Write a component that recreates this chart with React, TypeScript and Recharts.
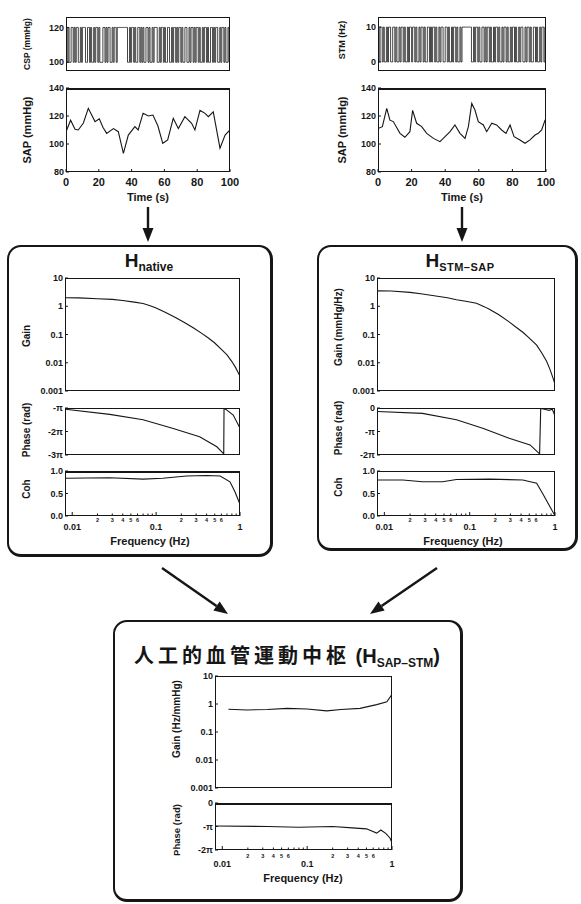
import React from 'react'
import { LineChart, Line, XAxis, YAxis } from 'recharts'

const FONT = '"Liberation Sans", Arial, Helvetica, sans-serif'
const CJK = '"Noto Sans CJK JP", "Noto Sans CJK SC", sans-serif'
const INK = '#161616'

// binary input sequences, one character per 0.625 s
const cspBits =
  '10100110101100101110011010010110100011010110010110' +
  '1111111111' +
  '0010110100110101001101001011100101101001100101101011010011001011010110100101101001101011001011010010'
const stmBits =
  '1011010010110011010010110100101101101001011010011010110100101100110100101101001011' +
  '1111111' +
  '00101101001101011010010110100101101001011010010110010110100110100101101'

const sapNative = [
  { t: 0, v: 108.8 }, { t: 2.8, v: 117 }, { t: 5.5, v: 110.5 }, { t: 7.5, v: 110 },
  { t: 10.6, v: 115 }, { t: 13.6, v: 125.5 }, { t: 17.7, v: 116 }, { t: 20.3, v: 118 },
  { t: 22.5, v: 112 }, { t: 24.8, v: 107.6 }, { t: 28.9, v: 111 }, { t: 31.9, v: 108.8 },
  { t: 35, v: 93.3 }, { t: 38, v: 106.4 }, { t: 42, v: 112.4 }, { t: 44, v: 110 },
  { t: 47, v: 122 }, { t: 50.2, v: 120 }, { t: 53, v: 120.7 }, { t: 56, v: 113 },
  { t: 59, v: 100.5 }, { t: 62, v: 102.9 }, { t: 65.4, v: 118.3 }, { t: 68.5, v: 111 },
  { t: 72.5, v: 119.5 }, { t: 76.6, v: 114.8 }, { t: 78.6, v: 110 }, { t: 81.7, v: 124 },
  { t: 84.8, v: 121.9 }, { t: 86.8, v: 119.5 }, { t: 89.8, v: 123 }, { t: 93.9, v: 97 },
  { t: 97, v: 106.4 }, { t: 100, v: 110 },
]

const sapStm = [
  { t: 0, v: 111 }, { t: 2.6, v: 112.4 }, { t: 5.2, v: 125.5 }, { t: 7.1, v: 117 },
  { t: 9.1, v: 116 }, { t: 13.1, v: 107.6 }, { t: 16, v: 104.8 }, { t: 19, v: 108.8 },
  { t: 20.6, v: 124 }, { t: 23, v: 114.8 }, { t: 26, v: 112.4 }, { t: 29, v: 107.6 },
  { t: 33, v: 104 }, { t: 36.9, v: 101.7 }, { t: 39.9, v: 105.2 }, { t: 42.9, v: 108.8 },
  { t: 45.8, v: 113.6 }, { t: 48.8, v: 107.6 }, { t: 51.8, v: 104 }, { t: 53.8, v: 112.4 },
  { t: 55.8, v: 129 }, { t: 57.7, v: 124.3 }, { t: 59.7, v: 116 }, { t: 62.7, v: 113.6 },
  { t: 64.7, v: 108.8 }, { t: 67.7, v: 114.8 }, { t: 70.6, v: 113.6 }, { t: 73.6, v: 110 },
  { t: 76.2, v: 107.6 }, { t: 78.6, v: 113.6 }, { t: 81, v: 105.2 }, { t: 84.5, v: 102.9 },
  { t: 87.5, v: 100.5 }, { t: 90.5, v: 102.9 }, { t: 93.5, v: 106.4 }, { t: 95.4, v: 107.6 },
  { t: 97.4, v: 110 }, { t: 99.4, v: 117 }, { t: 100, v: 117 },
]

// H native
const nativeGain = [
  { f: 0.0083, v: 2.0 }, { f: 0.012, v: 1.98 }, { f: 0.02, v: 1.85 }, { f: 0.03, v: 1.75 },
  { f: 0.04, v: 1.6 }, { f: 0.055, v: 1.4 }, { f: 0.07, v: 1.25 }, { f: 0.085, v: 1.05 },
  { f: 0.1, v: 0.87 }, { f: 0.13, v: 0.6 }, { f: 0.17, v: 0.4 }, { f: 0.22, v: 0.26 },
  { f: 0.28, v: 0.17 }, { f: 0.35, v: 0.11 }, { f: 0.42, v: 0.075 }, { f: 0.5, v: 0.05 },
  { f: 0.6, v: 0.03 }, { f: 0.7, v: 0.019 }, { f: 0.8, v: 0.011 }, { f: 0.88, v: 0.007 },
  { f: 0.95, v: 0.0045 }, { f: 0.99, v: 0.0035 },
]
const nativePhase = [
  { f: 0.0083, v: -1.05 }, { f: 0.028, v: -1.27 }, { f: 0.07, v: -1.5 }, { f: 0.16, v: -1.87 },
  { f: 0.33, v: -2.22 }, { f: 0.53, v: -2.65 }, { f: 0.64, v: -2.95 }, { f: 0.645, v: -1.02 },
  { f: 0.68, v: -1.06 }, { f: 0.83, v: -1.3 }, { f: 0.98, v: -1.8 },
]
const nativeCoh = [
  { f: 0.0083, v: 0.84 }, { f: 0.028, v: 0.85 }, { f: 0.07, v: 0.82 }, { f: 0.12, v: 0.84 },
  { f: 0.23, v: 0.89 }, { f: 0.4, v: 0.9 }, { f: 0.58, v: 0.89 }, { f: 0.76, v: 0.76 },
  { f: 0.87, v: 0.54 }, { f: 0.98, v: 0.3 },
]

// H STM-SAP
const stmGain = [
  { f: 0.0083, v: 3.5 }, { f: 0.012, v: 3.45 }, { f: 0.02, v: 3.1 }, { f: 0.028, v: 2.7 },
  { f: 0.04, v: 2.3 }, { f: 0.055, v: 2.0 }, { f: 0.07, v: 1.7 }, { f: 0.09, v: 1.5 },
  { f: 0.12, v: 1.27 }, { f: 0.15, v: 0.95 }, { f: 0.17, v: 0.78 }, { f: 0.22, v: 0.5 },
  { f: 0.29, v: 0.28 }, { f: 0.35, v: 0.18 }, { f: 0.42, v: 0.12 }, { f: 0.5, v: 0.075 },
  { f: 0.61, v: 0.042 }, { f: 0.7, v: 0.022 }, { f: 0.8, v: 0.011 }, { f: 0.88, v: 0.0055 },
  { f: 0.95, v: 0.0028 }, { f: 0.99, v: 0.0019 },
]
const stmPhase = [
  { f: 0.0083, v: -0.15 }, { f: 0.028, v: -0.23 }, { f: 0.07, v: -0.5 }, { f: 0.145, v: -0.87 },
  { f: 0.29, v: -1.29 }, { f: 0.51, v: -1.57 }, { f: 0.66, v: -1.95 }, { f: 0.68, v: -0.02 },
  { f: 0.75, v: -0.05 }, { f: 0.85, v: -0.1 }, { f: 0.93, v: -0.05 }, { f: 0.99, v: -0.3 },
]
const stmCoh = [
  { f: 0.0083, v: 0.8 }, { f: 0.0164, v: 0.8 }, { f: 0.028, v: 0.76 }, { f: 0.048, v: 0.76 },
  { f: 0.07, v: 0.81 }, { f: 0.17, v: 0.82 }, { f: 0.42, v: 0.8 }, { f: 0.61, v: 0.73 },
  { f: 0.73, v: 0.47 }, { f: 0.87, v: 0.21 }, { f: 0.99, v: 0.02 },
]

// artificial vasomotor center H SAP-STM
const centerGain = [
  { f: 0.0118, v: 0.65 }, { f: 0.0195, v: 0.61 }, { f: 0.034, v: 0.64 }, { f: 0.058, v: 0.7 },
  { f: 0.1, v: 0.66 }, { f: 0.17, v: 0.57 }, { f: 0.25, v: 0.64 }, { f: 0.42, v: 0.7 },
  { f: 0.66, v: 0.95 }, { f: 0.87, v: 1.2 }, { f: 1.0, v: 2.2 },
]
const centerPhase = [
  { f: 0.0083, v: -0.98 }, { f: 0.034, v: -1.0 }, { f: 0.079, v: -1.03 }, { f: 0.2, v: -1.0 },
  { f: 0.34, v: -1.06 }, { f: 0.5, v: -1.1 }, { f: 0.66, v: -1.28 }, { f: 0.74, v: -1.15 },
  { f: 0.85, v: -1.3 }, { f: 0.95, v: -1.5 }, { f: 1.0, v: -1.7 },
]

const timeTicks = [0, 20, 40, 60, 80, 100]
const freqTicks = [0.01, 0.02, 0.03, 0.04, 0.05, 0.06, 0.07, 0.08, 0.09, 0.1, 0.2, 0.3, 0.4, 0.5, 0.6, 0.7, 0.8, 0.9, 1]
const freqMajor: Record<number, string> = { 0.01: '0.01', 0.1: '0.1', 1: '1' }
const freqMinor: Record<number, string> = {
  0.02: '2', 0.03: '3', 0.04: '4', 0.05: '5', 0.06: '6',
  0.2: '2', 0.3: '3', 0.4: '4', 0.5: '5', 0.6: '6',
}
const gainTicks = [0.001, 0.01, 0.1, 1, 10]
const FREQ_DOMAIN: [number, number] = [0.0082, 1]

function bitsToSeries(bits: string, lo: number, hi: number) {
  const dt = 100 / bits.length
  const pts = bits.split('').map((b, i) => ({ t: i * dt, v: b === '1' ? hi : lo }))
  pts.push({ t: 100, v: pts[pts.length - 1].v })
  return pts
}

const cspSeries = bitsToSeries(cspBits, 100, 120)
const stmSeries = bitsToSeries(stmBits, 0, 10)

const phaseFmt = (v: number) => (v === 0 ? '0' : v === -1 ? '-π' : `-${-v}π`)
const cohFmt = (v: number) => v.toFixed(1)
const numFmt = (v: number) => String(v)

const YW = 44
const PT = 7
const PR = 12
const PB = 7
const XH = 26

type PanelProps = {
  x: number
  y: number
  w: number
  h: number
  data: { [k: string]: number }[]
  xKey: string
  xDomain: [number, number]
  yDomain: [number, number]
  xLog?: boolean
  yLog?: boolean
  yTicks: number[]
  yFmt: (v: number) => string
  xAxis?: 'time' | 'freq'
  majorDy?: number
  minorDy?: number
  step?: boolean
  strokeWidth?: number
  topWidth?: number
}

function Panel(p: PanelProps) {
  const showX = !!p.xAxis
  const cw = YW + p.w + PR
  const ch = PT + p.h + PB + (showX ? XH : 0)

  const yTick = (props: any) => {
    const { x, y, payload } = props
    return (
      <g>
        <line x1={x} x2={x + 3} y1={y} y2={y} stroke={INK} strokeWidth={1} />
        <text x={x - 2} y={y} dy={3.2} textAnchor="end" fontSize={9} fontWeight="bold" fontFamily={FONT} fill={INK}>
          {p.yFmt(payload.value)}
        </text>
      </g>
    )
  }

  const xTick = (props: any) => {
    const { x, y, payload } = props
    const v = payload.value
    if (p.xAxis === 'time') {
      return (
        <g>
          <line x1={x} x2={x} y1={y} y2={y - 3} stroke={INK} strokeWidth={1} />
          <text x={x} y={y + 14} textAnchor="middle" fontSize={11} fontWeight="bold" fontFamily={FONT} fill={INK}>
            {v}
          </text>
        </g>
      )
    }
    const major = freqMajor[v]
    const minor = freqMinor[v]
    return (
      <g>
        <line x1={x} x2={x} y1={y} y2={y - (major ? 4 : 2.5)} stroke={INK} strokeWidth={1} />
        {major && (
          <text x={x} y={y + (p.majorDy ?? 15)} textAnchor="middle" fontSize={9} fontWeight="bold" fontFamily={FONT} fill={INK}>
            {major}
          </text>
        )}
        {minor && (
          <text x={x} y={y + (p.minorDy ?? 6)} textAnchor="middle" fontSize={5.5} fontWeight="bold" fontFamily={FONT} fill={INK}>
            {minor}
          </text>
        )}
      </g>
    )
  }

  return (
    <div style={{ position: 'absolute', left: p.x - YW, top: p.y - PT, width: cw, height: ch }}>
      <LineChart width={cw} height={ch} data={p.data} margin={{ top: PT, right: PR, left: 0, bottom: PB }}>
        <XAxis
          dataKey={p.xKey}
          type="number"
          scale={p.xLog ? 'log' : 'linear'}
          domain={p.xDomain}
          allowDataOverflow
          ticks={p.xLog ? freqTicks : timeTicks}
          interval={0}
          hide={!showX}
          height={XH}
          axisLine={false}
          tickLine={false}
          tickSize={0}
          tickMargin={0}
          tick={xTick}
        />
        <YAxis
          type="number"
          scale={p.yLog ? 'log' : 'linear'}
          domain={p.yDomain}
          allowDataOverflow
          ticks={p.yTicks}
          interval={0}
          width={YW}
          axisLine={false}
          tickLine={false}
          tickSize={0}
          tickMargin={0}
          tick={yTick}
        />
        <Line
          dataKey="v"
          type={p.step ? 'stepAfter' : 'linear'}
          stroke={INK}
          strokeWidth={p.strokeWidth ?? 1.1}
          dot={false}
          isAnimationActive={false}
        />
      </LineChart>
      <div
        style={{
          position: 'absolute',
          left: YW,
          top: PT,
          width: p.w,
          height: p.h,
          border: `1px solid ${INK}`,
          borderTopWidth: p.topWidth ?? 1,
          boxSizing: 'border-box',
          pointerEvents: 'none',
        }}
      />
    </div>
  )
}

function VLabel({ cx, cy, text, size = 10 }: { cx: number; cy: number; text: string; size?: number }) {
  return (
    <div
      style={{
        position: 'absolute',
        left: cx,
        top: cy,
        transform: 'translate(-50%, -50%) rotate(-90deg)',
        whiteSpace: 'nowrap',
        fontSize: size,
        fontWeight: 'bold',
        fontFamily: FONT,
        color: INK,
        lineHeight: 1,
      }}
    >
      {text}
    </div>
  )
}

function Text({ cx, cy, children, size = 11 }: { cx: number; cy: number; children: React.ReactNode; size?: number }) {
  return (
    <div
      style={{
        position: 'absolute',
        left: cx,
        top: cy,
        transform: 'translate(-50%, -50%)',
        whiteSpace: 'nowrap',
        fontSize: size,
        fontWeight: 'bold',
        fontFamily: FONT,
        color: INK,
        lineHeight: 1,
      }}
    >
      {children}
    </div>
  )
}

function Box({ l, t, r, b }: { l: number; t: number; r: number; b: number }) {
  return (
    <div
      style={{
        position: 'absolute',
        left: l,
        top: t,
        width: r - l,
        height: b - t,
        border: `2px solid ${INK}`,
        borderRightWidth: 3,
        borderBottomWidth: 3,
        borderRadius: 14,
        boxSizing: 'border-box',
      }}
    />
  )
}

function Arrow({ x1, y1, x2, y2 }: { x1: number; y1: number; x2: number; y2: number }) {
  const head = 14
  const half = 5.5
  const dx = x2 - x1
  const dy = y2 - y1
  const len = Math.hypot(dx, dy)
  const ux = dx / len
  const uy = dy / len
  const bx = x2 - ux * head
  const by = y2 - uy * head
  const pts = `${x2},${y2} ${bx - uy * half},${by + ux * half} ${bx + uy * half},${by - ux * half}`
  return (
    <g>
      <line x1={x1} y1={y1} x2={bx} y2={by} stroke={INK} strokeWidth={2.4} />
      <polygon points={pts} fill={INK} />
    </g>
  )
}

export default function App() {
  return (
    <div style={{ position: 'absolute', left: 0, top: 0, width: 581, height: 904, background: '#fff', overflow: 'hidden' }}>
      <svg width={581} height={904} style={{ position: 'absolute', left: 0, top: 0 }}>
        <Arrow x1={148} y1={207} x2={148} y2={242} />
        <Arrow x1={462} y1={207} x2={462} y2={242} />
        <Arrow x1={162} y1={568} x2={228} y2={614} />
        <Arrow x1={437} y1={568} x2={370} y2={614} />
      </svg>

      {/* input / output time series */}
      <Panel x={66} y={17} w={164} h={54} data={cspSeries} xKey="t" xDomain={[0, 100]} yDomain={[95, 126]} yTicks={[100, 120]} yFmt={numFmt} step strokeWidth={0.8} />
      <Panel x={66} y={88} w={164} h={84} data={sapNative} xKey="t" xDomain={[0, 100]} yDomain={[80, 140]} yTicks={[80, 100, 120, 140]} yFmt={numFmt} xAxis="time" topWidth={2} />
      <VLabel cx={27} cy={44} text="CSP (mmHg)" size={8.5} />
      <VLabel cx={27} cy={130} text="SAP (mmHg)" size={11} />
      <Text cx={148} cy={197}>Time (s)</Text>

      <Panel x={378} y={17} w={168} h={54} data={stmSeries} xKey="t" xDomain={[0, 100]} yDomain={[-2.6, 12.9]} yTicks={[0, 10]} yFmt={numFmt} step strokeWidth={0.8} />
      <Panel x={378} y={88} w={168} h={84} data={sapStm} xKey="t" xDomain={[0, 100]} yDomain={[80, 140]} yTicks={[80, 100, 120, 140]} yFmt={numFmt} xAxis="time" topWidth={2} />
      <VLabel cx={342} cy={40} text="STM (Hz)" size={9} />
      <VLabel cx={342} cy={130} text="SAP (mmHg)" size={11} />
      <Text cx={462} cy={197}>Time (s)</Text>

      {/* H native */}
      <Box l={7} t={245} r={273} b={557} />
      <Text cx={149} cy={260}>
        <span style={{ fontSize: 19 }}>H</span>
        <span style={{ fontSize: 12, position: 'relative', top: 4 }}>native</span>
      </Text>
      <Panel x={65} y={278} w={175} h={113} data={nativeGain} xKey="f" xLog yLog xDomain={FREQ_DOMAIN} yDomain={[0.001, 10]} yTicks={gainTicks} yFmt={numFmt} />
      <Panel x={65} y={408} w={175} h={47} data={nativePhase} xKey="f" xLog xDomain={FREQ_DOMAIN} yDomain={[-3, -1]} yTicks={[-3, -2, -1]} yFmt={phaseFmt} />
      <Panel x={65} y={471} w={175} h={45} data={nativeCoh} xKey="f" xLog xDomain={FREQ_DOMAIN} yDomain={[0, 1]} yTicks={[0, 0.5, 1]} yFmt={cohFmt} xAxis="freq" majorDy={14} minorDy={6} topWidth={2} />
      <VLabel cx={27} cy={336} text="Gain" />
      <VLabel cx={27} cy={430} text="Phase (rad)" />
      <VLabel cx={27} cy={489} text="Coh" />
      <Text cx={150} cy={541}>Frequency (Hz)</Text>

      {/* H STM-SAP */}
      <Box l={317} t={245} r={578} b={551} />
      <Text cx={460} cy={260}>
        <span style={{ fontSize: 19 }}>H</span>
        <span style={{ fontSize: 11, position: 'relative', top: 4, letterSpacing: 0.5 }}>STM–SAP</span>
      </Text>
      <Panel x={377} y={278} w={178} h={113} data={stmGain} xKey="f" xLog yLog xDomain={FREQ_DOMAIN} yDomain={[0.001, 10]} yTicks={gainTicks} yFmt={numFmt} />
      <Panel x={377} y={408} w={178} h={47} data={stmPhase} xKey="f" xLog xDomain={FREQ_DOMAIN} yDomain={[-2, 0]} yTicks={[-2, -1, 0]} yFmt={phaseFmt} />
      <Panel x={377} y={471} w={178} h={45} data={stmCoh} xKey="f" xLog xDomain={FREQ_DOMAIN} yDomain={[0, 1]} yTicks={[0, 0.5, 1]} yFmt={cohFmt} xAxis="freq" majorDy={14} minorDy={6} />
      <VLabel cx={339} cy={327} text="Gain (mmHg/Hz)" />
      <VLabel cx={339} cy={428} text="Phase (rad)" />
      <VLabel cx={339} cy={487} text="Coh" />
      <Text cx={463} cy={541}>Frequency (Hz)</Text>

      {/* artificial vasomotor center */}
      <Box l={113} t={620} r={463} b={902} />
      <div
        style={{
          position: 'absolute',
          left: 287,
          top: 655,
          transform: 'translate(-50%, -50%)',
          whiteSpace: 'nowrap',
          fontFamily: CJK,
          fontWeight: 'bold',
          fontSize: 20,
          letterSpacing: 4,
          color: INK,
          lineHeight: 1,
        }}
      >
        人工的血管運動中枢
        <span style={{ fontFamily: FONT, letterSpacing: 0 }}>
          {' '}(H<span style={{ fontSize: 12, position: 'relative', top: 4 }}>SAP–STM</span>)
        </span>
      </div>
      <Panel x={215} y={676} w={177} h={112} data={centerGain} xKey="f" xLog yLog xDomain={FREQ_DOMAIN} yDomain={[0.001, 10]} yTicks={gainTicks} yFmt={numFmt} />
      <Panel x={215} y={803} w={177} h={47} data={centerPhase} xKey="f" xLog xDomain={FREQ_DOMAIN} yDomain={[-2, 0]} yTicks={[-2, -1, 0]} yFmt={phaseFmt} xAxis="freq" majorDy={17} minorDy={8} topWidth={2} />
      <VLabel cx={177} cy={719} text="Gain (Hz/mmHg)" />
      <VLabel cx={177} cy={830} text="Phase (rad)" size={9.5} />
      <Text cx={303} cy={878}>Frequency (Hz)</Text>
    </div>
  )
}
